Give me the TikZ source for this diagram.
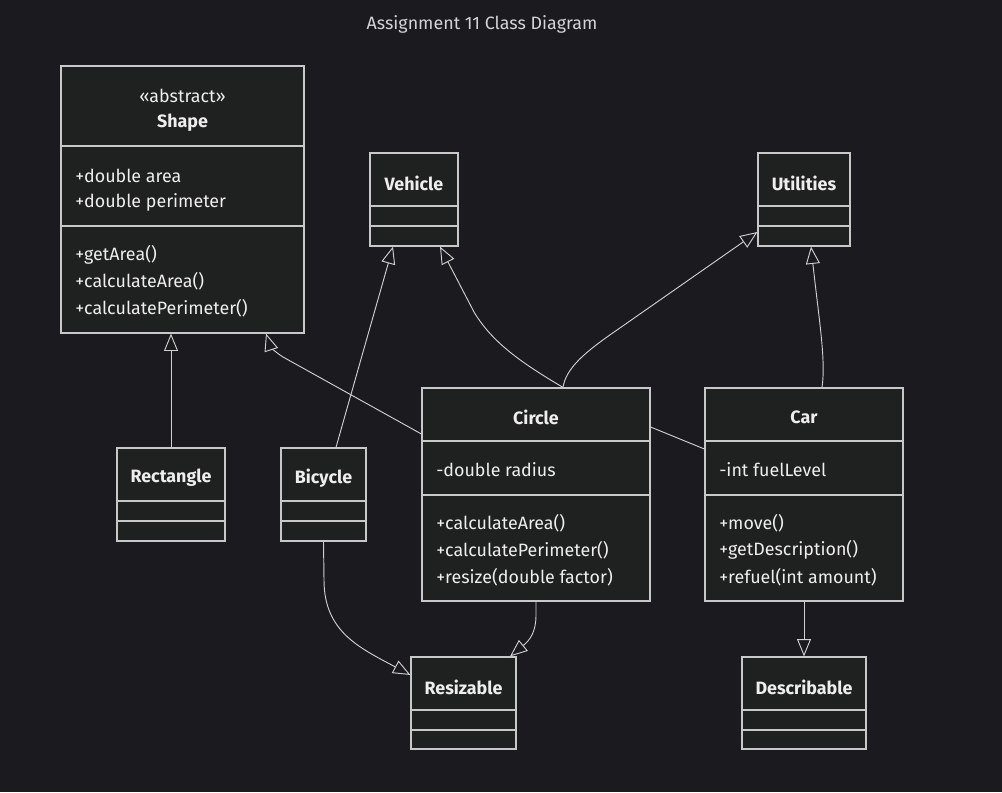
\documentclass[tikz,border=0pt]{standalone}
\usepackage{fontspec}
\setmainfont{Fira Sans}
\usetikzlibrary{arrows.meta,calc}
\definecolor{bg}{HTML}{1B1A1F}
\definecolor{boxfill}{HTML}{1F2020}
\definecolor{boxline}{HTML}{C8C8C8}
\definecolor{txt}{HTML}{EEEEEE}
\definecolor{titletxt}{HTML}{D4D4D4}
\definecolor{edge}{HTML}{D0D0D0}
\begin{document}
\begin{tikzpicture}[x=0.75pt,y=-0.75pt,
  box/.style={draw=boxline, fill=boxfill, line width=0.9pt, inner sep=0pt},
  divider/.style={draw=boxline, line width=0.9pt},
  cname/.style={text=txt, font=\fontsize{13.4}{15}\selectfont\bfseries, inner sep=0pt},
  member/.style={text=txt, font=\fontsize{13.4}{15}\selectfont, inner sep=0pt, anchor=west},
  inh/.style={draw=edge, line width=0.7pt, -{Triangle[length=13pt, width=10.5pt, fill=bg]}},
  assoc/.style={draw=edge, line width=0.7pt}
]
\useasboundingbox[fill=bg] (0,0) rectangle (1002,792);

\node[text=titletxt, font=\fontsize{13.4}{15}\selectfont, inner sep=0pt] (title) at (482,24) {Assignment 11 Class Diagram};

% Shape
\node[box, minimum width=243pt*0.75, minimum height=267pt*0.75] (shape) at (182.5,199.5) {};
\draw[divider] (shape.west |- 0,146) -- (shape.east |- 0,146);
\draw[divider] (shape.west |- 0,226) -- (shape.east |- 0,226);
\node[text=txt, font=\fontsize{13.4}{15}\selectfont, inner sep=0pt] (shapest) at (182.5,96) {«abstract»};
\node[cname] (shapet) at (182.5,123) {Shape};
\node[member] (sa1) at (75,176) {+double area};
\node[member] (sa2) at (75,202) {+double perimeter};
\node[member] (sm1) at (75,255) {+getArea()};
\node[member] (sm2) at (75,281) {+calculateArea()};
\node[member] (sm3) at (75,308) {+calculatePerimeter()};

% Vehicle
\node[box, minimum width=88pt*0.75, minimum height=93pt*0.75] (vehicle) at (414,199.5) {};
\draw[divider] (vehicle.west |- 0,206) -- (vehicle.east |- 0,206);
\draw[divider] (vehicle.west |- 0,226) -- (vehicle.east |- 0,226);
\node[cname] (vehiclet) at (414,183) {Vehicle};

% Utilities
\node[box, minimum width=92pt*0.75, minimum height=93pt*0.75] (util) at (804,199.5) {};
\draw[divider] (util.west |- 0,206) -- (util.east |- 0,206);
\draw[divider] (util.west |- 0,226) -- (util.east |- 0,226);
\node[cname] (utilt) at (804,183) {Utilities};

% Rectangle
\node[box, minimum width=108pt*0.75, minimum height=93pt*0.75] (rect) at (171,494.5) {};
\draw[divider] (rect.west |- 0,501) -- (rect.east |- 0,501);
\draw[divider] (rect.west |- 0,521) -- (rect.east |- 0,521);
\node[cname] (rectt) at (171,478) {Rectangle};

% Bicycle
\node[box, minimum width=85pt*0.75, minimum height=93pt*0.75] (bike) at (323.5,494.5) {};
\draw[divider] (bike.west |- 0,501) -- (bike.east |- 0,501);
\draw[divider] (bike.west |- 0,521) -- (bike.east |- 0,521);
\node[cname] (biket) at (323.5,478) {Bicycle};

% Circle
\node[box, minimum width=228pt*0.75, minimum height=213pt*0.75] (circle) at (536,494.5) {};
\draw[divider] (circle.west |- 0,441) -- (circle.east |- 0,441);
\draw[divider] (circle.west |- 0,495) -- (circle.east |- 0,495);
\node[cname] (circlet) at (536,417) {Circle};
\node[member] (ca1) at (436,470) {-double radius};
\node[member] (cm1) at (436,523) {+calculateArea()};
\node[member] (cm2) at (436,550) {+calculatePerimeter()};
\node[member] (cm3) at (436,577) {+resize(double factor)};

% Car
\node[box, minimum width=198pt*0.75, minimum height=213pt*0.75] (car) at (804,494.5) {};
\draw[divider] (car.west |- 0,441) -- (car.east |- 0,441);
\draw[divider] (car.west |- 0,495) -- (car.east |- 0,495);
\node[cname] (cart) at (804,417) {Car};
\node[member] (cara1) at (719,470) {-int fuelLevel};
\node[member] (carm1) at (719,523) {+move()};
\node[member] (carm2) at (719,550) {+getDescription()};
\node[member] (carm3) at (719,577) {+refuel(int amount)};

% Resizable
\node[box, minimum width=105pt*0.75, minimum height=92pt*0.75] (resz) at (463.5,703) {};
\draw[divider] (resz.west |- 0,710) -- (resz.east |- 0,710);
\draw[divider] (resz.west |- 0,730) -- (resz.east |- 0,730);
\node[cname] (reszt) at (463.5,687) {Resizable};

% Describable
\node[box, minimum width=124pt*0.75, minimum height=92pt*0.75] (desc) at (804,703) {};
\draw[divider] (desc.west |- 0,710) -- (desc.east |- 0,710);
\draw[divider] (desc.west |- 0,730) -- (desc.east |- 0,730);
\node[cname] (desct) at (804,687) {Describable};

% Edges
\draw[inh] (rect.north) -- (shape.south -| rect.north);
\draw[inh] (circle.west |- 0,434) -- (283,357) .. controls (275,352) and (270,346) .. (shape.south -| 266,0);
\draw[inh] (bike.north -| 336,0) .. controls (355,380) and (375,310) .. (vehicle.south -| 393,0);
\draw[inh] (circle.north -| 563,0) .. controls (520,362) and (492,342) .. (474,312) -- (vehicle.south -| 440,0);
\draw[inh] (circle.north -| 563,0) .. controls (566,368) and (585,352) .. (617,330) -- (util.west |- 0,232);
\draw[inh] (car.north -| 822,0) .. controls (826,360) and (819,320) .. (util.south -| 811,0);
\draw[assoc] (circle.east |- 0,427) -- (car.west |- 0,449);
\draw[inh] (circle.south) -- (536,615) .. controls (536,632) and (530,640) .. (resz.north -| 510,0);
\draw[inh] (bike.south) -- (324,580) .. controls (324,632) and (360,648) .. (resz.west |- 0,675);
\draw[inh] (car.south) -- (desc.north);
\end{tikzpicture}
\end{document}
